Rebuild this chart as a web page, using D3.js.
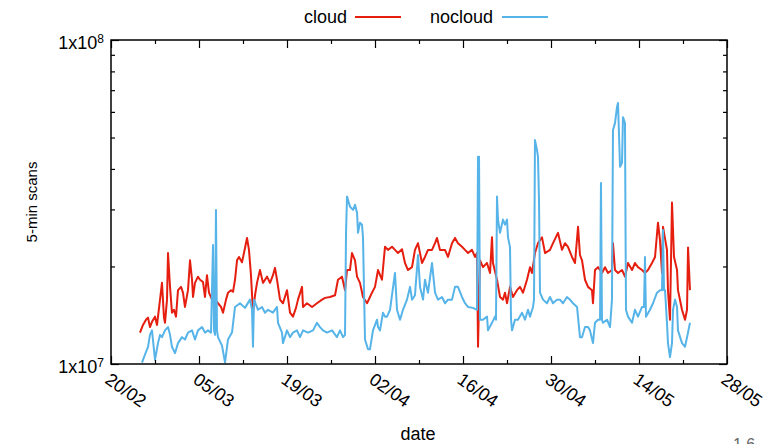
<!DOCTYPE html>
<html>
<head>
<meta charset="utf-8">
<script src="https://cdn.jsdelivr.net/npm/d3@7"></script>
<style>
  html, body { margin: 0; padding: 0; background: #fff; }
  svg { display: block; font-family: "Liberation Sans", Arial, Helvetica, sans-serif; }
</style>
</head>
<body>
<svg id="chart" width="780" height="444"></svg>
<script>
// Number of 5-minute scans (millions). Each point: [days since 20/02/2020, scans in millions]
const cloud = [
  [4.61,12.5],[5.09,13.2],[5.57,13.7],[5.89,13.9],[6.20,13.0],[6.52,13.5],[7.00,14.0],[7.32,13.2],
  [7.80,15.8],[8.11,17.8],[8.43,13.9],[8.59,13.4],[8.91,15.8],[9.07,22.0],[9.39,17.3],[9.70,14.4],
  [10.02,14.7],[10.34,14.0],[10.66,16.9],[11.14,17.3],[11.45,16.6],[11.77,15.0],[12.25,16.9],[12.57,20.9],
  [12.89,18.2],[13.05,16.1],[13.36,17.8],[13.84,18.6],[14.16,18.2],[14.64,17.9],[14.95,16.1],[15.27,18.8],
  [15.59,16.6],[16.07,15.8],[16.55,15.8],[17.02,15.4],[17.50,15.0],[17.82,14.4],[18.30,15.8],[18.61,16.6],
  [19.09,16.9],[19.41,16.7],[19.73,18.2],[20.05,20.9],[20.36,21.4],[20.84,20.6],[21.32,22.8],[21.64,24.5],
  [21.95,22.5],[22.27,18.8],[22.59,14.4],[22.91,16.3],[23.23,17.8],[23.70,19.5],[24.18,17.8],[24.82,18.6],
  [25.30,17.8],[25.77,18.8],[26.09,19.8],[26.41,18.2],[26.89,15.8],[27.36,15.4],[28.00,16.9],[28.48,14.4],
  [28.95,14.0],[29.43,14.9],[29.75,15.8],[30.39,17.3],[30.55,15.0],[31.18,15.4],[31.98,15.0],[32.77,15.4],
  [33.57,15.8],[34.05,16.0],[34.84,16.1],[35.64,16.3],[36.11,18.2],[36.75,18.6],[37.23,16.9],[37.55,19.5],
  [38.02,19.5],[38.34,22.0],[38.82,20.9],[39.14,18.6],[39.61,17.8],[40.09,16.1],[40.73,15.4],[41.20,16.1],
  [41.52,16.6],[42.00,17.3],[42.48,19.5],[43.11,18.2],[43.59,23.0],[44.07,22.5],[44.70,23.0],[45.18,22.5],
  [45.66,22.0],[46.30,22.6],[46.77,20.5],[47.25,19.5],[47.89,19.9],[48.36,22.5],[48.84,23.6],[49.48,20.5],
  [49.95,21.4],[50.43,22.5],[51.07,22.5],[51.55,23.6],[51.86,24.5],[52.34,22.5],[53.14,22.5],[53.61,21.4],
  [54.25,23.6],[54.73,24.5],[55.20,23.6],[55.84,23.0],[56.32,22.5],[56.80,22.0],[57.43,22.5],[57.91,21.4],
  [58.23,22.0],[58.39,11.3],[58.70,20.9],[59.18,19.9],[59.82,20.5],[60.30,19.1],[60.61,24.6],[60.77,20.5],
  [61.41,18.2],[61.89,16.1],[62.36,15.8],[62.68,16.6],[63.00,15.4],[63.48,17.3],[63.95,16.1],[64.59,16.9],
  [65.07,17.3],[65.55,16.6],[66.18,18.2],[66.66,19.9],[66.98,19.1],[67.45,22.0],[67.93,23.6],[68.57,24.6],
  [69.05,22.0],[69.84,22.5],[70.32,23.6],[71.11,25.4],[71.75,22.5],[72.23,23.6],[72.70,23.0],[73.34,21.4],
  [73.82,20.5],[74.30,26.5],[74.61,21.7],[74.93,20.9],[75.41,18.2],[75.89,17.3],[76.52,16.9],[76.68,15.4],
  [77.00,19.5],[77.48,19.9],[78.11,19.1],[78.59,19.9],[79.07,19.1],[79.70,19.5],[79.86,23.6],[80.18,19.5],
  [80.66,19.1],[81.30,19.5],[81.77,18.6],[82.25,20.5],[82.89,19.5],[83.36,20.5],[83.84,19.9],[84.48,19.5],
  [84.95,19.1],[85.43,19.5],[86.07,20.5],[86.55,21.4],[87.02,27.3],[87.34,24.1],[87.66,19.1],[87.82,26.5],
  [88.45,22.5],[88.61,16.9],[88.93,13.7],[89.25,31.5],[89.57,21.4],[90.05,19.5],[90.20,16.9],[90.84,14.7],
  [91.32,13.7],[91.64,14.7],[91.80,22.9],[92.11,16.9]
];

const nocloud = [
  [4.93,10.1],[5.41,10.7],[5.89,11.3],[6.20,12.3],[6.52,12.7],[7.00,10.3],[7.48,11.6],[7.80,12.3],
  [8.11,12.1],[8.59,12.7],[9.07,13.0],[9.39,12.3],[9.70,11.3],[10.18,10.8],[10.66,11.6],[11.30,12.1],
  [11.77,11.9],[12.25,12.5],[12.89,12.7],[13.36,11.9],[13.84,12.7],[14.48,13.0],[14.95,12.5],[15.43,12.7],
  [15.91,12.5],[16.23,23.3],[16.39,12.7],[16.55,12.3],[16.70,29.9],[16.86,12.7],[17.02,12.1],[17.66,11.4],
  [18.14,10.1],[18.61,11.9],[19.25,12.5],[19.73,15.0],[20.52,15.4],[21.32,14.9],[22.11,15.8],[22.43,14.7],
  [22.59,11.3],[22.75,15.8],[23.39,14.7],[24.02,15.0],[24.50,14.4],[24.98,14.7],[25.77,14.4],[26.41,15.0],
  [26.57,13.4],[27.20,12.5],[27.36,11.6],[28.00,12.7],[28.48,12.1],[28.95,12.5],[29.59,12.7],[30.07,12.1],
  [30.55,12.7],[31.34,12.5],[32.14,12.7],[32.77,13.4],[33.25,13.0],[33.73,12.7],[34.36,12.5],[35.16,12.7],
  [35.95,12.1],[36.43,12.7],[36.91,12.1],[37.23,12.3],[37.39,25.4],[37.55,32.9],[38.02,30.6],[38.50,29.9],
  [38.82,31.0],[39.14,29.3],[39.30,25.4],[39.61,27.3],[39.93,26.9],[40.09,24.6],[40.41,11.9],[40.89,11.1],
  [41.20,11.1],[41.68,12.7],[42.32,13.7],[42.48,13.0],[42.80,12.7],[43.27,14.4],[43.59,14.0],[43.91,14.0],
  [44.39,14.7],[45.18,19.1],[45.50,14.7],[45.98,13.7],[46.45,14.7],[47.09,15.8],[47.57,17.3],[47.89,15.8],
  [48.36,16.3],[48.84,21.7],[49.16,17.3],[49.64,15.8],[49.95,18.2],[50.43,16.6],[51.07,20.5],[51.55,16.6],
  [52.02,15.8],[52.66,16.1],[53.14,15.4],[53.61,15.8],[54.25,15.8],[54.73,17.3],[55.20,17.3],[55.84,16.1],
  [56.32,15.4],[56.80,15.0],[57.59,14.9],[58.23,14.7],[58.39,43.6],[58.55,43.6],[58.70,13.7],[59.18,13.7],
  [59.82,14.0],[59.98,12.7],[60.61,13.4],[61.09,14.0],[61.25,13.7],[61.41,32.9],[61.57,27.9],[61.89,25.4],
  [62.36,27.9],[62.68,26.9],[63.00,27.9],[63.16,24.6],[63.48,22.9],[63.64,13.7],[63.80,12.7],[64.27,13.7],
  [64.75,13.7],[65.39,14.4],[65.86,13.7],[66.34,14.7],[66.66,14.0],[67.14,15.0],[67.30,15.8],[67.45,49.1],
  [67.77,45.8],[67.93,43.6],[68.09,32.1],[68.25,16.6],[68.73,15.8],[69.36,15.4],[69.84,16.1],[70.32,15.4],
  [70.95,15.8],[71.43,15.8],[71.91,15.4],[72.54,16.1],[73.02,15.8],[73.50,15.4],[74.14,15.0],[74.61,12.1],
  [74.93,12.1],[75.41,13.0],[75.89,13.0],[76.20,12.7],[76.68,11.6],[77.00,13.4],[77.48,13.7],[77.80,13.7],
  [77.95,36.2],[78.11,13.7],[78.27,13.4],[78.91,13.7],[79.39,13.0],[79.70,15.8],[79.86,52.7],[80.18,55.4],
  [80.50,62.1],[80.66,63.9],[80.98,40.6],[81.30,41.8],[81.45,57.8],[81.77,55.4],[81.93,14.7],[82.25,14.0],
  [82.89,13.4],[83.36,14.7],[83.84,14.0],[84.48,15.0],[84.80,15.0],[84.95,21.4],[85.11,14.0],[85.75,14.7],
  [86.23,15.4],[86.86,16.6],[87.34,16.9],[87.66,16.9],[87.82,25.9],[87.98,16.9],[88.14,16.9],[88.45,13.4],
  [88.61,11.6],[88.93,10.5],[89.25,11.6],[89.41,14.7],[89.73,15.8],[90.05,15.0],[90.20,12.7],[90.84,11.6],
  [91.32,11.3],[91.80,12.5],[92.11,13.4]
];

const seriesNames = ["cloud", "nocloud"];
const seriesColors = ["#e51e10", "#56b4e9"];
const xTickLabels = ["20/02", "05/03", "19/03", "02/04", "16/04", "30/04", "14/05", "28/05"];
const yTickValues = [1e7, 1e8];
const yTickExponents = ["7", "8"];
const yMinorValues = [2e7, 3e7, 4e7, 5e7, 6e7, 7e7, 8e7, 9e7];
const xTitle = "date";
const yTitle = "5-min scans";

const startDate = new Date(Date.UTC(2020, 1, 20));
const dayToDate = d => new Date(startDate.getTime() + d * 864e5);
const endDate = d3.utcDay.offset(startDate, 98);

const plot = { left: 111, right: 727, top: 40, bottom: 364 };
const fontSize = 18;

const svg = d3.select("#chart");

const x = d3.scaleUtc().domain([startDate, endDate]).range([plot.left, plot.right]);
const y = d3.scaleLog().domain([1e7, 1e8]).range([plot.bottom, plot.top]);

const majorDates = xTickLabels.map((_, i) => d3.utcDay.offset(startDate, 14 * i));
const minorDates = d3.range(7, 98, 14).map(k => d3.utcDay.offset(startDate, k));

// clip for the data lines
svg.append("defs").append("clipPath").attr("id", "plotClip")
  .append("rect")
  .attr("x", plot.left).attr("y", plot.top)
  .attr("width", plot.right - plot.left).attr("height", plot.bottom - plot.top);

// data lines
const line = d3.line()
  .x(d => x(dayToDate(d[0])))
  .y(d => y(d[1] * 1e6));

const lines = svg.append("g").attr("clip-path", "url(#plotClip)");
[cloud, nocloud].forEach((data, i) => {
  lines.append("path")
    .datum(data)
    .attr("fill", "none")
    .attr("stroke", seriesColors[i])
    .attr("stroke-width", 2)
    .attr("stroke-linejoin", "round")
    .attr("d", line);
});

// axes: ticks drawn inward on all four sides
const tickStyle = g => {
  g.select(".domain").remove();
  g.selectAll(".tick line").attr("stroke", "#000").attr("stroke-width", 1.2);
};

// bottom major ticks with labels
const xAxis = svg.append("g")
  .attr("transform", `translate(0,${plot.bottom})`)
  .call(d3.axisBottom(x).tickValues(majorDates).tickSizeInner(-8).tickSizeOuter(0)
    .tickFormat((d, i) => xTickLabels[i]))
  .call(tickStyle);
xAxis.selectAll(".tick text")
  .attr("font-family", "Liberation Sans, Arial, sans-serif")
  .attr("font-size", fontSize)
  .attr("fill", "#000")
  .attr("text-anchor", "start")
  .attr("y", 0).attr("dy", "0.35em")
  .attr("transform", "translate(-4,13) rotate(35)");

// bottom minor ticks
svg.append("g")
  .attr("transform", `translate(0,${plot.bottom})`)
  .call(d3.axisBottom(x).tickValues(minorDates).tickSizeInner(-4).tickSizeOuter(0).tickFormat(""))
  .call(tickStyle);

// top mirrored ticks
svg.append("g")
  .attr("transform", `translate(0,${plot.top})`)
  .call(d3.axisTop(x).tickValues(majorDates).tickSizeInner(-8).tickSizeOuter(0).tickFormat(""))
  .call(tickStyle);
svg.append("g")
  .attr("transform", `translate(0,${plot.top})`)
  .call(d3.axisTop(x).tickValues(minorDates).tickSizeInner(-4).tickSizeOuter(0).tickFormat(""))
  .call(tickStyle);

// left axis: labelled decades + minor ticks
const yAxis = svg.append("g")
  .attr("transform", `translate(${plot.left},0)`)
  .call(d3.axisLeft(y).tickValues(yTickValues).tickSizeInner(-8).tickSizeOuter(0).tickPadding(7)
    .tickFormat(() => ""))
  .call(tickStyle);
yAxis.selectAll(".tick text").each(function (d, i) {
  const t = d3.select(this)
    .attr("font-family", "Liberation Sans, Arial, sans-serif")
    .attr("font-size", fontSize)
    .attr("fill", "#000")
    .attr("dy", "0.45em");
  t.append("tspan").text("1x10");
  t.append("tspan").attr("dy", "-0.5em").attr("font-size", 12).text(yTickExponents[i]);
});
svg.append("g")
  .attr("transform", `translate(${plot.left},0)`)
  .call(d3.axisLeft(y).tickValues(yMinorValues).tickSizeInner(-4).tickSizeOuter(0).tickFormat(""))
  .call(tickStyle);

// right mirrored ticks
svg.append("g")
  .attr("transform", `translate(${plot.right},0)`)
  .call(d3.axisRight(y).tickValues(yTickValues).tickSizeInner(-8).tickSizeOuter(0).tickFormat(""))
  .call(tickStyle);
svg.append("g")
  .attr("transform", `translate(${plot.right},0)`)
  .call(d3.axisRight(y).tickValues(yMinorValues).tickSizeInner(-4).tickSizeOuter(0).tickFormat(""))
  .call(tickStyle);

// frame
svg.append("rect")
  .attr("x", plot.left).attr("y", plot.top)
  .attr("width", plot.right - plot.left).attr("height", plot.bottom - plot.top)
  .attr("fill", "none").attr("stroke", "#000").attr("stroke-width", 1.5);

// axis titles
svg.append("text")
  .attr("x", 418).attr("y", 440)
  .attr("text-anchor", "middle")
  .attr("font-size", fontSize)
  .text(xTitle);

svg.append("text")
  .attr("transform", `translate(37,${(plot.top + plot.bottom) / 2}) rotate(-90)`)
  .attr("text-anchor", "middle")
  .attr("font-size", 15)
  .text(yTitle);

// legend
const legend = svg.append("g").attr("font-size", fontSize);
const legendItems = [
  { name: seriesNames[0], color: seriesColors[0], textEnd: 347, lineX: 355 },
  { name: seriesNames[1], color: seriesColors[1], textEnd: 493, lineX: 502 }
];
legendItems.forEach(it => {
  legend.append("text")
    .attr("x", it.textEnd).attr("y", 23)
    .attr("text-anchor", "end")
    .text(it.name);
  legend.append("line")
    .attr("x1", it.lineX).attr("x2", it.lineX + 46)
    .attr("y1", 17).attr("y2", 17)
    .attr("stroke", it.color).attr("stroke-width", 2);
});

// page fragment at the lower edge
svg.append("text")
  .attr("x", 733).attr("y", 450)
  .attr("font-size", 16).attr("fill", "#666")
  .text("1.6");
</script>
</body>
</html>
